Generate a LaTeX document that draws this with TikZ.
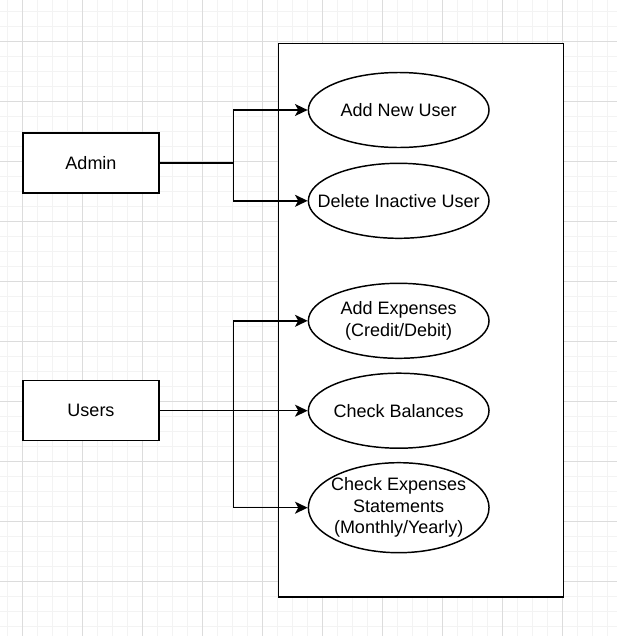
\documentclass[tikz,border=0pt]{standalone}
\usepackage{fontspec}
\setmainfont{Liberation Sans}
\usetikzlibrary{shapes.geometric,arrows.meta}
\definecolor{gminor}{HTML}{F3F3F3}
\definecolor{gmajor}{HTML}{DCDCDC}
\begin{document}
\begin{tikzpicture}[x=0.75pt,y=-0.75pt,
  minorline/.style={draw=gminor,line width=0.75pt},
  majorline/.style={draw=gmajor,line width=0.75pt},
  actor/.style={draw=black,fill=white,line width=1.1pt,minimum width=102pt,minimum height=45pt,inner sep=0pt,font=\fontsize{13.5}{16.2}\selectfont},
  uc/.style={ellipse,draw=black,fill=white,line width=1.1pt,minimum width=135.5pt,minimum height=56.25pt,inner sep=0pt},
  uclab/.style={align=center,font=\fontsize{13.5}{16.2}\selectfont,inner sep=0pt},
  conn/.style={draw=black,line width=1.1pt},
  arr/.style={conn,-{Stealth[length=9.5pt,width=9pt,inset=2.5pt]}}
]
\useasboundingbox (0,0) rectangle (617,636);
\fill[white] (0,0) rectangle (617,636);
% grid
\foreach \i in {0,...,40} {\draw[minorline] ({7.3+15*\i},0) -- ({7.3+15*\i},636);}
\foreach \i in {0,...,42} {\draw[minorline] (0,{11+15*\i}) -- (617,{11+15*\i});}
\foreach \i in {0,...,9} {\draw[majorline] ({22.3+60*\i},0) -- ({22.3+60*\i},636);}
\foreach \i in {0,...,10} {\draw[majorline] (0,{41.3+60*\i}) -- (617,{41.3+60*\i});}
% system boundary
\node[draw=black,fill=white,line width=1.1pt,inner sep=0pt,minimum width=213.6pt,minimum height=415.3pt] (sys) at (420.9,320.2) {};
% actors
\node[actor] (admin) at (91,163) {Admin};
\node[actor] (users) at (91,410.7) {Users};
% use cases
\node[uc,label={[uclab]center:Add New User}] (e1) at (398.7,110) {};
\node[uc,label={[uclab]center:Delete Inactive User}] (e2) at (398.7,200.8) {};
\node[uc,label={[uclab]center:Add Expenses\\(Credit/Debit)}] (e3) at (398.7,320.8) {};
\node[uc,label={[uclab]center:Check Balances}] (e4) at (398.7,410.7) {};
\node[uc,minimum height=67.5pt,label={[uclab]center:Check Expenses\\Statements\\(Monthly/Yearly)}] (e5) at (398.7,507.7) {};
% connectors
\coordinate (ja) at (233.3,163);
\coordinate (ju) at (233.3,410.7);
\draw[conn] (admin.east) -- (ja);
\draw[arr] (ja) |- (e1.west);
\draw[arr] (ja) |- (e2.west);
\draw[arr] (users.east) -- (e4.west);
\draw[arr] (ju) |- (e3.west);
\draw[arr] (ju) |- (e5.west);
\end{tikzpicture}
\end{document}
